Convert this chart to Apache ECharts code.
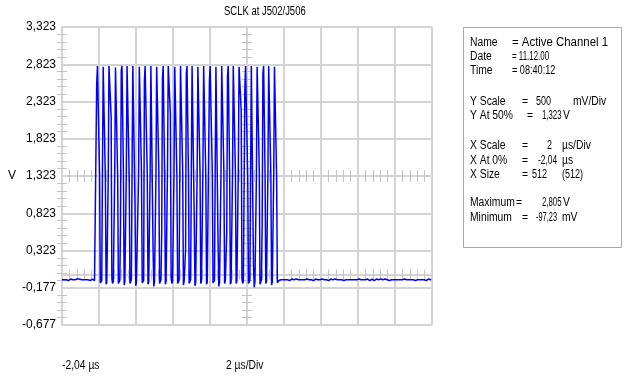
<!DOCTYPE html>
<html>
<head>
<meta charset="utf-8">
<script src="https://cdn.jsdelivr.net/npm/echarts@6/dist/echarts.min.js"></script>
<style>
  html, body { margin: 0; padding: 0; background: #fff; }
  #chart { width: 627px; height: 382px; }
</style>
</head>
<body>
<div id="chart"></div>
<script>
// scope readout, 512 samples over 10 div (2 us/div), volts
const sampleCount = 512
const yMin = -0.677
const yMax = 3.323
const yStep = 0.5

const idleBefore = [
  -0.07, -0.06, -0.07, -0.07, -0.08, -0.06, -0.07, -0.07, -0.06, -0.08,
  -0.07, -0.07, -0.06, -0.07, -0.08, -0.07, -0.06, -0.07, -0.07, -0.07,
  -0.08, -0.06, -0.07, -0.07, -0.06, -0.07, -0.08, -0.07, -0.07, -0.06,
  -0.07, -0.07, -0.08, -0.07, -0.06, -0.07, -0.07, -0.07, -0.06, -0.08,
  -0.07, -0.07, -0.06, -0.07, -0.07, -0.08, -0.07, -0.07
]

const burst = [
  2.55, 2.80, 2.79, 2.80, 1.36, -0.11, -0.09, -0.08,
  1.42, 2.79, 2.80, 2.79, 1.30, -0.13, -0.10, -0.08,
  1.33, 2.80, 2.79, 2.80, 2.12, -0.06, -0.12, -0.09, -0.08,
  1.40, 2.78, 2.80, 2.80, 1.34, -0.12, -0.10, -0.08,
  0.72, 2.74, 2.80, 2.79, 1.38, -0.14, -0.09, -0.08,
  1.37, 2.80, 2.79, 2.80, 1.31, -0.12, -0.10, -0.07,
  1.45, 2.80, 2.80, 2.78, 0.95, -0.15, -0.10, -0.08, -0.08,
  1.35, 2.79, 2.80, 2.80, 1.36, -0.11, -0.09, -0.08,
  2.58, 2.80, 2.79, 2.80, 1.33, -0.13, -0.10, -0.08,
  1.39, 2.80, 2.80, 2.79, 0.36, -0.16, -0.09, -0.08,
  1.32, 2.79, 2.80, 2.80, 1.40, -0.12, -0.10, -0.07,
  0.61, 2.62, 2.80, 2.79, 1.35, -0.13, -0.09, -0.08,
  1.41, 2.80, 2.79, 2.80, 2.15, -0.05, -0.12, -0.09, -0.08,
  1.36, 2.79, 2.80, 2.80, 1.32, -0.12, -0.10, -0.08,
  1.30, 2.80, 2.79, 2.79, 1.38, -0.14, -0.09, -0.08,
  0.33, 2.70, 2.80, 2.80, 1.35, -0.12, -0.10, -0.07,
  1.44, 2.80, 2.80, 2.79, 0.76, -0.15, -0.10, -0.08,
  1.34, 2.79, 2.80, 2.80, 1.37, -0.12, -0.09, -0.08,
  1.38, 2.80, 2.79, 2.80, 1.31, -0.13, -0.10, -0.08, -0.08,
  2.60, 2.80, 2.80, 2.79, 1.36, -0.11, -0.09, -0.08,
  1.40, 2.79, 2.80, 2.80, 0.40, -0.16, -0.10, -0.08,
  1.33, 2.80, 2.79, 2.80, 1.39, -0.12, -0.09, -0.07,
  0.58, 2.65, 2.80, 2.79, 1.34, -0.13, -0.10, -0.08,
  1.37, 2.80, 2.80, 2.80, 1.35, -0.12, -0.09, -0.08,
  1.42, 2.79, 2.80, 2.79, 2.20, -0.06, -0.12, -0.09, -0.08,
  2.48, 2.80, 2.80, 2.80, 1.32, -0.12, -0.10, -0.08,
  1.36, 2.80, 2.79, 2.80, 0.12, -0.17, -0.09, -0.08,
  1.31, 2.79, 2.80, 2.80, 1.40, -0.13, -0.10, -0.07,
  0.68, 2.70, 2.80, 2.79, 1.35, -0.12, -0.09, -0.08,
  1.39, 2.80, 2.80, 2.80, 1.33, -0.14, -0.10, -0.08,
  1.35, 2.79, 2.80, 2.80, 1.30, -0.11, -0.09, -0.08
]

const idleAfter = [
  -0.06, -0.07, -0.07, -0.06, -0.07, -0.07, -0.07, -0.08, -0.07, -0.06,
  -0.07, -0.07, -0.06, -0.07, -0.08, -0.07, -0.07, -0.06, -0.07, -0.07,
  -0.07, -0.08, -0.07, -0.06, -0.07, -0.07, -0.07, -0.06, -0.08, -0.07,
  -0.07, -0.06, -0.07, -0.07, -0.08, -0.07, -0.07, -0.07, -0.06, -0.07,
  -0.08, -0.07, -0.07, -0.06, -0.07, -0.07, -0.07, -0.08, -0.07, -0.07,
  -0.06, -0.07, -0.07, -0.07, -0.08, -0.06, -0.07, -0.07, -0.07, -0.06,
  -0.07, -0.08, -0.07, -0.07, -0.06, -0.07, -0.07, -0.07, -0.08, -0.07,
  -0.07, -0.06, -0.07, -0.07, -0.07, -0.08, -0.07, -0.06, -0.07, -0.07,
  -0.07, -0.07, -0.08, -0.07, -0.06, -0.07, -0.07, -0.07, -0.06, -0.08,
  -0.07, -0.07, -0.07, -0.06, -0.07, -0.07, -0.08, -0.07, -0.07, -0.06,
  -0.07, -0.07, -0.07, -0.08, -0.07, -0.06, -0.07, -0.07, -0.07, -0.07,
  -0.06, -0.08, -0.07, -0.07, -0.07, -0.06, -0.07, -0.07, -0.08, -0.07,
  -0.07, -0.07, -0.06, -0.07, -0.07, -0.08, -0.07, -0.07, -0.06, -0.07,
  -0.07, -0.08, -0.07, -0.07, -0.06, -0.07, -0.07, -0.07, -0.08, -0.07,
  -0.06, -0.07, -0.07, -0.07, -0.07, -0.08, -0.06, -0.07, -0.07, -0.07,
  -0.07, -0.06, -0.08, -0.07, -0.07, -0.07, -0.06, -0.07, -0.07, -0.08,
  -0.07, -0.07, -0.06, -0.07, -0.07, -0.07, -0.08, -0.07, -0.06, -0.07,
  -0.07, -0.07, -0.07, -0.06, -0.08, -0.07, -0.07, -0.07, -0.06, -0.07,
  -0.08, -0.07, -0.07, -0.06, -0.07, -0.07, -0.07, -0.07, -0.08, -0.06,
  -0.07, -0.07, -0.07, -0.06, -0.07, -0.08, -0.07, -0.07, -0.06, -0.05,
  -0.07, -0.06, -0.07, -0.08, -0.07, -0.07, -0.06, -0.07, -0.07, -0.07,
  -0.07
]

const sclk = idleBefore.concat(burst, idleAfter)

// info panel: label, '=', value, unit
const infoRows = [
  ['Name', '= Active Channel 1', '', ''],
  ['Date', '= 11.12.00', '', ''],
  ['Time', '= 08:40:12', '', ''],
  ['Y Scale', '=', '500', 'mV/Div'],
  ['Y At 50%', '=', '1,323', 'V'],
  ['X Scale', '=', '2', 'µs/Div'],
  ['X At 0%', '=', '-2,04', 'µs'],
  ['X Size', '=', '512', '(512)'],
  ['Maximum', '=', '2,805', 'V'],
  ['Minimum', '=', '-97,23', 'mV']
]

const font = '"Liberation Sans", Arial, sans-serif'
const gridColor = '#d4d4d4'
const tickColor = '#c4c4c4'

const chart = echarts.init(document.getElementById('chart'), null, { renderer: 'canvas' })

function fmtV(v) {
  return v.toFixed(3).replace('.', ',')
}

// axis that only draws minor ticks (used for the frame edges and center cross)
function tickAxis(base, extra) {
  return Object.assign({
    type: 'value',
    min: base.min,
    max: base.max,
    interval: base.interval,
    axisLine: { show: false },
    axisTick: { show: false, inside: true },
    axisLabel: { show: false },
    splitLine: { show: false },
    minorTick: { show: true, splitNumber: 5, length: 5, lineStyle: { color: tickColor, width: 1 } },
    silent: true
  }, extra)
}

const xBase = { min: 0, max: sampleCount, interval: sampleCount / 10 }
const yBase = { min: yMin, max: yMax, interval: yStep }

// narrow "scope" text
function txt(s, x, y, scale) {
  return {
    type: 'text',
    x: x,
    y: y,
    scaleX: scale || 0.86,
    style: { text: s, font: '12px ' + font, fill: '#000', textVerticalAlign: 'middle' }
  }
}

const rowY = [43, 57, 71, 102, 116, 146, 161, 175, 203, 218]
const eqX = [512, 512, 512, 522, 527, 522, 522, 522, 516, 522]
const eqScale = [0.95, 0.66, 0.76, 0.86, 0.86, 0.86, 0.86, 0.86, 0.86, 0.86]
const valX = [0, 0, 0, 536, 542, 547, 538, 532, 542, 536]
const valScale = [1, 1, 1, 0.75, 0.65, 0.75, 0.7, 0.75, 0.65, 0.62]
const unitX = [0, 0, 0, 573, 563, 562, 562, 562, 563, 562]
const infoTexts = []
infoRows.forEach((r, i) => {
  infoTexts.push(txt(r[0], 470, rowY[i]))
  infoTexts.push(txt(r[1], eqX[i], rowY[i], eqScale[i]))
  if (r[2]) {
    infoTexts.push(txt(r[2], valX[i], rowY[i], valScale[i]))
    infoTexts.push(txt(r[3], unitX[i], rowY[i], r[3] === '(512)' ? 0.75 : 0.86))
  }
})

const option = {
  animation: false,
  backgroundColor: '#fff',
  grid: { left: 62, right: 195, top: 27, bottom: 57, outerBoundsMode: 'none', containLabel: false },
  xAxis: [
    Object.assign({}, xBase, {
      type: 'value',
      position: 'bottom',
      axisLine: { show: true, lineStyle: { color: gridColor, width: 2 } },
      axisTick: { show: false, inside: true },
      minorTick: { show: true, splitNumber: 5, length: 5, lineStyle: { color: tickColor, width: 1 } },
      splitLine: { show: true, lineStyle: { color: gridColor, width: 2 } },
      axisLabel: { show: false }
    }),
    tickAxis(xBase, { position: 'top', axisLine: { show: true, lineStyle: { color: gridColor, width: 2 } } }),
    tickAxis(xBase, { position: 'bottom', offset: -149, minorTick: { show: true, splitNumber: 5, length: 6, lineStyle: { color: tickColor, width: 1 } } }),
    tickAxis(xBase, { position: 'bottom', offset: -149, axisTick: { show: false, inside: false }, minorTick: { show: true, splitNumber: 5, length: 6, lineStyle: { color: tickColor, width: 1 } } })
  ],
  yAxis: [
    Object.assign({}, yBase, {
      type: 'value',
      position: 'left',
      axisLine: { show: true, lineStyle: { color: gridColor, width: 2 } },
      axisTick: { show: false, inside: true },
      minorTick: { show: true, splitNumber: 5, length: 5, lineStyle: { color: tickColor, width: 1 } },
      splitLine: { show: true, lineStyle: { color: gridColor, width: 2 } },
      axisLabel: { margin: 6, fontFamily: font, fontSize: 12, color: '#000', formatter: fmtV },
      name: 'V',
      nameLocation: 'middle',
      nameRotate: 0,
      nameGap: 44,
      nameTextStyle: { fontFamily: font, fontSize: 12, color: '#000' }
    }),
    tickAxis(yBase, { position: 'right', axisLine: { show: true, lineStyle: { color: gridColor, width: 2 } } }),
    tickAxis(yBase, { position: 'left', offset: -185 }),
    tickAxis(yBase, { position: 'left', offset: -185, axisTick: { show: false, inside: false } })
  ],
  series: [
    {
      name: 'SCLK',
      type: 'line',
      data: sclk.map((v, i) => [i, v]),
      showSymbol: false,
      symbol: 'none',
      lineStyle: { color: '#0000ff', width: 1.5 },
      itemStyle: { color: '#0000ff' },
      z: 5
    }
  ],
  graphic: [
    {
      type: 'rect',
      left: 463,
      top: 27,
      shape: { width: 158, height: 220 },
      style: { fill: '#fff', stroke: '#a8a8a8', lineWidth: 1 }
    },
    txt('SCLK at J502/J506', 224, 12, 0.79),
    txt('-2,04 µs', 62, 366),
    txt('2 µs/Div', 226, 366)
  ].concat(infoTexts)
}

chart.setOption(option)
</script>
</body>
</html>
